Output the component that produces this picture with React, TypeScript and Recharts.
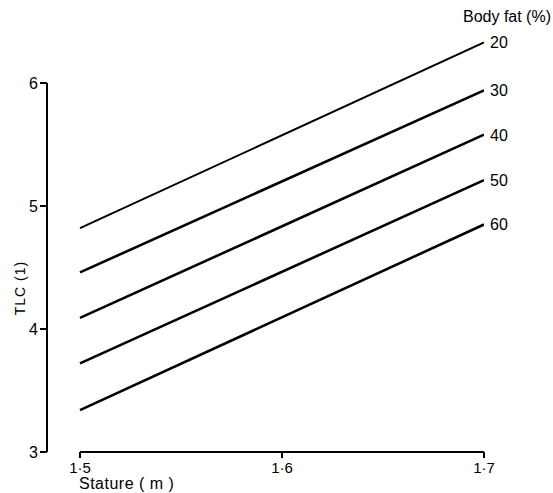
import { LineChart, Line, XAxis, YAxis, ReferenceLine, Customized } from 'recharts';

// stature (m) at the two ends of each line
const stature = [1.5, 1.7];
// TLC (l) for each body fat group
const fat20 = [4.82, 6.33];
const fat30 = [4.46, 5.94];
const fat40 = [4.09, 5.58];
const fat50 = [3.72, 5.21];
const fat60 = [3.34, 4.85];
const fatLabels = ['20', '30', '40', '50', '60'];
const xTicks = [1.5, 1.6, 1.7];
const yTicks = [3, 4, 5, 6];

const series = [fat20, fat30, fat40, fat50, fat60];
const data = stature.map((s, i) => {
  const row: any = { stature: s };
  series.forEach((vals, k) => {
    row['f' + fatLabels[k]] = vals[i];
  });
  return row;
});

const font = '"Liberation Sans", Arial, sans-serif';
const xMin = 1.5 - 33 / 2020;

const XTick = ({ x, y, payload }: any) => (
  <g>
    <line x1={x} y1={y} x2={x} y2={y + 6} stroke="#000" strokeWidth={2} />
    <text x={x} y={y + 21} textAnchor="middle" fontSize={15} fontFamily={font} fill="#000">
      {payload.value.toFixed(1).replace('.', '·')}
    </text>
  </g>
);

const YTick = ({ x, y, payload }: any) => {
  if (!yTicks.includes(payload.value)) return null;
  return (
    <g>
      <line x1={x - 7} y1={y} x2={x} y2={y} stroke="#000" strokeWidth={2} />
      <text x={x - 9} y={y + 6} textAnchor="end" fontSize={16} fontFamily={font} fill="#000">
        {payload.value}
      </text>
    </g>
  );
};

const EndLabel = (name: string) => (props: any) => {
  const { x, y, index } = props;
  if (index !== stature.length - 1) return null;
  return (
    <text x={x + 6} y={y + 6} fontSize={16} fontFamily={font} fill="#000">
      {name}
    </text>
  );
};

const Extras = () => (
  <g fontFamily={font} fill="#000">
    <text x={551} y={22} textAnchor="end" fontSize={16}>Body fat (%)</text>
    <text x={79} y={489} fontSize={16} letterSpacing={0.5}>Stature  ( m )</text>
    <text transform="translate(25, 288) rotate(-90)" textAnchor="middle" fontSize={14} letterSpacing={1}>TLC (1)</text>
  </g>
);

export default function App() {
  return (
    <div style={{ position: 'absolute', left: 0, top: 0, background: '#fff' }}>
      <LineChart width={553} height={493} data={data} margin={{ top: 21.5, right: 69, bottom: 0, left: 0 }}>
        <XAxis
          dataKey="stature"
          type="number"
          domain={[xMin, 1.7]}
          allowDataOverflow
          ticks={xTicks}
          axisLine={false}
          tickLine={false}
          tickSize={0}
          tickMargin={0}
          tick={<XTick />}
          height={41}
        />
        <YAxis
          type="number"
          domain={[3, 6.5]}
          allowDataOverflow
          ticks={yTicks}
          width={47}
          axisLine={false}
          tickLine={false}
          tickSize={0}
          tickMargin={0}
          tick={<YTick />}
        />
        <ReferenceLine
          segment={[{ x: 1.5, y: 3 }, { x: 1.7, y: 3 }]}
          stroke="#000"
          strokeWidth={2}
          ifOverflow="visible"
        />
        <ReferenceLine
          segment={[{ x: xMin, y: 3 }, { x: xMin, y: 6 }]}
          stroke="#000"
          strokeWidth={2}
          ifOverflow="visible"
        />
        {fatLabels.map((name, k) => (
          <Line
            key={name}
            dataKey={'f' + name}
            type="linear"
            stroke="#000"
            strokeWidth={k === 0 ? 2 : 2.6}
            dot={false}
            activeDot={false}
            label={EndLabel(name)}
            isAnimationActive={false}
          />
        ))}
        <Customized component={Extras} />
      </LineChart>
    </div>
  );
}
